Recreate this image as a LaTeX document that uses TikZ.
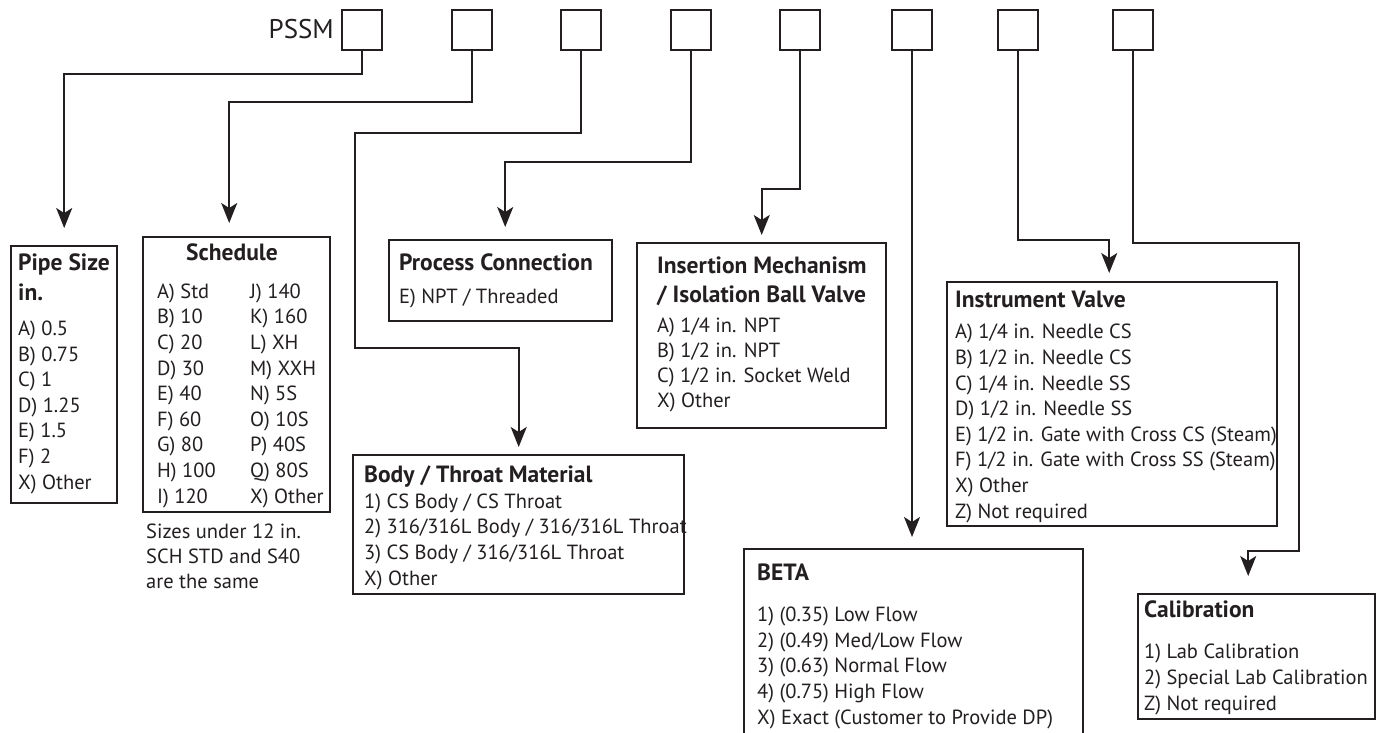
\documentclass[tikz,border=0pt]{standalone}
\usepackage{fontspec}
\setmainfont{PT Sans}
\usetikzlibrary{positioning,arrows.meta}
\definecolor{ink}{HTML}{231F20}
\newcommand{\opttxt}{\fontsize{20.5}{25.6}\selectfont}
\newcommand{\headtxt}[1]{{\fontsize{23.5}{25.6}\selectfont\bfseries #1}}
\tikzset{
  codebox/.style={draw=ink, line width=2pt, minimum width=40pt, minimum height=40pt, inner sep=0pt},
  optbox/.style={draw=ink, line width=2.4pt, anchor=north west, inner sep=0pt},
  opttext/.style={anchor=base west, align=left, inner sep=0pt, font=\opttxt, text=ink},
  conn/.style={draw=ink, line width=1.8pt, -{Stealth[length=20pt,width=16pt,inset=5pt]}},
}

\begin{document}
\begin{tikzpicture}[x=1pt,y=-1pt]
    \useasboundingbox (0,0) rectangle (1380,732);

    % model code boxes
    \node[anchor=base east, inner sep=0pt, text=ink, font=\fontsize{27}{30}\selectfont] (pssm) at (334,38) {PSSM};
    \foreach \x [count=\i] in {362,472,581,691,800,912,1018,1133}
        \node[codebox] (b\i) at (\x,30) {};

    % option boxes
    \node[optbox, minimum width=106pt, minimum height=257pt] (pipe) at (10,245) {};
    \node[optbox, minimum width=187pt, minimum height=275pt] (sched) at (142,236) {};
    \node[optbox, minimum width=223pt, minimum height=81pt] (proc) at (388,239) {};
    \node[optbox, minimum width=331pt, minimum height=139pt] (body) at (352,454) {};
    \node[optbox, minimum width=249pt, minimum height=185pt] (ins) at (636,242) {};
    \node[optbox, minimum width=339pt, minimum height=195pt] (beta) at (743,548) {};
    \node[optbox, minimum width=330pt, minimum height=244pt] (iv) at (946,281) {};
    \node[optbox, minimum width=237pt, minimum height=125pt] (cal) at (1137,593) {};

    % texts (base = last line)
    \node[opttext] (pipetext) at (18,489) {\headtxt{Pipe Size}\\[4.4pt]\headtxt{in.}\\[9.4pt]A) 0.5\\B) 0.75\\C) 1\\D) 1.25\\E) 1.5\\F) 2\\X) Other};
    \node[anchor=base, inner sep=0pt, text=ink] (schedhead) at (232,260) {\headtxt{Schedule}};
    \node[opttext] (schedcola) at (157,503) {A) Std\\B) 10\\C) 20\\D) 30\\E) 40\\F) 60\\G) 80\\H) 100\\I) 120};
    \node[opttext] (schedcolb) at (250,503) {J) 140\\K) 160\\L) XH\\M) XXH\\N) 5S\\O) 10S\\P) 40S\\Q) 80S\\X) Other};
    \node[opttext] (schednote) at (146,588) {Sizes under 12 in.\\[-0.6pt]SCH STD and S40\\[-0.6pt]are the same};
    \node[opttext] (proctext) at (399,303) {\headtxt{Process Connection}\\[7.4pt]E) NPT / Threaded};
    \node[opttext] (bodytext) at (364,585) {\headtxt{Body / Throat Material}\\[0.4pt]1) CS Body / CS Throat\\2) 316/316L Body / 316/316L Throat\\3) CS Body / 316/316L Throat\\X) Other};
    \node[opttext] (instext) at (657,407) {\headtxt{Insertion Mechanism}\\[3.4pt]\headtxt{/ Isolation Ball Valve}\\[4.4pt]A) 1/4 in. NPT\\[-0.6pt]B) 1/2 in. NPT\\[-0.6pt]C) 1/2 in. Socket Weld\\[-0.6pt]X) Other};
    \node[opttext] (betatext) at (757,724) {\headtxt{BETA}\\[15.4pt]1) (0.35) Low Flow\\2) (0.49) Med/Low Flow\\3) (0.63) Normal Flow\\4) (0.75) High Flow\\X) Exact (Customer to Provide DP)};
    \node[opttext] (ivtext) at (955,518) {\headtxt{Instrument Valve}\\[5.4pt]A) 1/4 in. Needle CS\\B) 1/2 in. Needle CS\\C) 1/4 in. Needle SS\\D) 1/2 in. Needle SS\\E) 1/2 in. Gate with Cross CS (Steam)\\F) 1/2 in. Gate with Cross SS (Steam)\\X) Other\\Z) Not required};
    \node[opttext] (caltext) at (1144,710) {\headtxt{Calibration}\\[15.4pt]1) Lab Calibration\\2) Special Lab Calibration\\Z) Not required};

    % connectors
    \draw[conn, shorten >=17pt] (b1.south) -- ++(0,23) -| (pipe.north);
    \draw[conn, shorten >=13pt] (b2.south) -- ++(0,51) -| ([xshift=-7.5pt]sched.north);
    \draw[conn, shorten >=7pt] (b3.south) -- ++(0,82) -| ++(-226,215) -| (body.north);
    \draw[conn, shorten >=12pt] (b4.south) -- ++(0,111) -| ([xshift=4.5pt]proc.north);
    \draw[conn, shorten >=7pt] (b5.south) -- ++(0,138) -| (ins.north);
    \draw[conn, shorten >=11pt] (b6.south) -- (b6.south |- beta.north);
    \draw[conn, shorten >=8pt] (b7.south) -- ++(0,189) -| ([xshift=-3pt]iv.north);
    \draw[conn, shorten >=17pt] (b8.south) -- ++(0,192) -| ++(166,308) -| ([xshift=-8.5pt]cal.north);
\end{tikzpicture}
\end{document}
